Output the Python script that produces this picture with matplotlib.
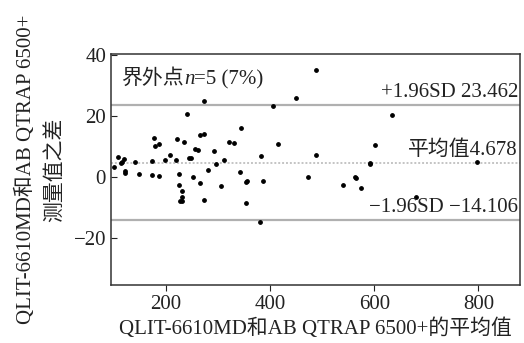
import matplotlib
matplotlib.use("Agg")
import matplotlib.pyplot as plt

plt.rcParams['font.family'] = ['Liberation Serif', 'Noto Sans CJK SC', 'DejaVu Sans']
plt.rcParams['axes.unicode_minus'] = True

# 两种方法测量值的平均值 (x) 与差值 (y)
mean_vals = [273, 450, 405, 240, 343, 415, 177, 179, 187, 221, 234, 266, 273,
             256, 261, 292, 320, 330, 207, 197, 218, 243, 247, 172, 140, 108,
             113, 116, 119, 100, 295, 311, 382, 281, 120, 121, 147, 173, 187,
             225, 225, 231, 230, 226, 230, 252, 265, 272, 306, 342, 353, 355,
             353, 380, 387, 473, 488, 634, 602, 488, 591, 592, 797, 563, 540,
             565, 574, 681]
diff_vals = [24.9, 25.8, 23.3, 20.6, 16.0, 10.8, 12.8, 10.2, 10.8, 12.6, 11.5,
             13.7, 14.1, 9.3, 8.9, 8.6, 11.4, 11.1, 7.3, 5.5, 5.5, 6.1, 6.1,
             5.3, 4.8, 6.6, 4.7, 5.0, 5.8, 3.2, 4.4, 5.6, 6.9, 2.2, 2.0, 1.2,
             1.0, 0.55, 0.2, 1.0, -2.5, -4.5, -6.5, -7.9, -7.9, -0.1, -2.0,
             -7.4, -3.0, 1.5, -1.7, -1.4, -8.4, -14.7, -1.4, -0.1, 35.1, 20.4,
             10.6, 7.2, 4.2, 4.7, 4.8, 0.0, -2.7, -0.3, -3.7, -6.7]

mean_diff = 4.678
upper = 23.462
lower = -14.106

fig = plt.figure(figsize=(5.24, 3.43), dpi=100)
ax = fig.add_axes([0.2118, 0.169, 0.7805, 0.6735])

ax.axhline(upper, color="#b0b0b0", lw=1.6, zorder=1)
ax.axhline(lower, color="#b0b0b0", lw=1.6, zorder=1)
ax.axhline(mean_diff, color="#c4c4c4", lw=1.4, ls=(0, (1, 1)), zorder=1)
ax.scatter(mean_vals, diff_vals, s=6, color="black", zorder=3)

ax.set_xlim(94, 880)
ax.set_ylim(-35.4, 40.3)
ax.set_xticks([200, 400, 600, 800])
ax.set_yticks([-20, 0, 20, 40])
fs = 15
ax.tick_params(axis='y', direction='in', length=4, labelsize=fs, colors="#222222")
ax.tick_params(axis='x', direction='out', length=4, labelsize=fs, colors="#222222")
for s in ax.spines.values():
    s.set_color("#333333")
    s.set_linewidth(1.1)

tc = "#222222"
ax.text(0.995, upper + 1.0, "+1.96SD 23.462", transform=ax.get_yaxis_transform(),
        ha="right", va="bottom", fontsize=fs, color=tc)
ax.text(0.995, mean_diff + 1.0, "平均值4.678", transform=ax.get_yaxis_transform(),
        ha="right", va="bottom", fontsize=fs, color=tc)
ax.text(0.995, lower + 1.0, "\u22121.96SD \u221214.106", transform=ax.get_yaxis_transform(),
        ha="right", va="bottom", fontsize=fs, color=tc)

# 界外点 n=5 (7%)，n 为斜体
t1 = ax.text(0.025, 0.87, "界外点", transform=ax.transAxes,
             ha="left", va="baseline", fontsize=fs, color=tc)
t2 = ax.annotate("n", xy=(1, 0), xycoords=t1, ha="left", va="bottom",
                 fontsize=fs, color=tc, style="italic")
ax.annotate("=5 (7%)", xy=(1, 0), xycoords=t2, ha="left", va="bottom",
            fontsize=fs, color=tc)

ax.set_xlabel("QLIT-6610MD和AB QTRAP 6500+的平均值", fontsize=fs, color=tc, labelpad=3)
ax.set_ylabel("QLIT-6610MD和AB QTRAP 6500+\n测量值之差", fontsize=fs, color=tc,
              labelpad=6, linespacing=1.65)

plt.savefig("out.png", dpi=100)
